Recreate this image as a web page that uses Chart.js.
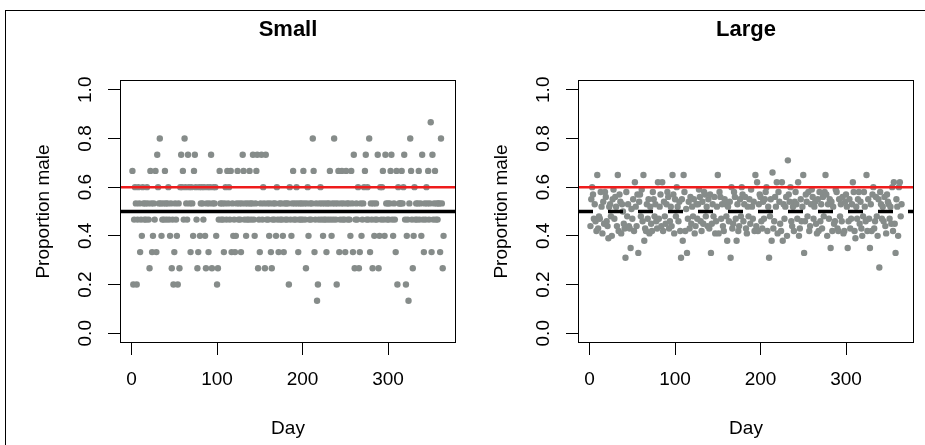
<!DOCTYPE html>
<html>
<head>
<meta charset="utf-8">
<script src="https://cdn.jsdelivr.net/npm/chart.js@4.4.0/dist/chart.umd.min.js"></script>
<style>
  html, body { margin: 0; padding: 0; background: #fff; }
  #wrap { position: relative; width: 925px; height: 445px; overflow: hidden; }
  #frame { position: absolute; left: 5px; top: 10px; width: 940px; height: 460px;
           border-left: 1px solid #000; border-top: 1px solid #000; }
  .pane { position: absolute; top: 0; width: 462px; height: 445px; }
</style>
</head>
<body>
<div id="wrap">
  <div id="frame"></div>
  <div class="pane" style="left:0"><canvas id="cSmall"></canvas></div>
  <div class="pane" style="left:458px"><canvas id="cLarge"></canvas></div>
</div>
<script>
// ---- datos ----
const panelTitles = ["Small", "Large"];
const dayTicks = [0, 100, 200, 300];
const propTicks = [0, 0.2, 0.4, 0.6, 0.8, 1.0];
const targetRatio = 0.6;   // linea roja
const evenRatio = 0.5;     // linea negra

// Small: machos de 15 por dia (dia 1..365)
const smallN = 15;
const smallMales = [
  10,3,7,9,8,3,7,9,8,5,   7,6,9,8,7,8,7,9,8,7,   4,10,8,5,6,8,7,10,5,11,
  9,8,12,8,6,7,8,7,10,8,  7,8,9,7,6,8,4,7,3,5,   8,7,6,3,8,4,9,11,9,10,
  7,12,9,8,7,11,9,8,5,9,  8,6,10,11,9,7,4,5,9,6, 8,9,8,7,9,6,4,8,9,5,
  8,9,11,4,8,9,8,9,6,3,   4,7,10,8,7,8,7,5,8,9,  7,10,8,9,7,10,5,8,6,7,
  5,6,8,10,7,8,7,5,8,11,  10,7,8,6,7,8,7,10,8,7, 8,11,7,6,8,10,11,4,7,5,
  8,11,7,9,8,4,11,7,8,7,  6,8,5,4,7,8,7,8,6,9,   7,5,8,7,8,7,6,5,8,7,
  8,7,8,3,9,7,6,8,10,7,   8,7,9,8,5,7,8,7,8,7,   10,8,7,4,8,9,6,7,8,7,
  8,12,10,5,7,8,2,3,7,8,  9,7,8,6,7,8,7,5,8,7,   8,10,7,6,8,7,12,8,7,3,
  8,10,5,7,8,10,7,8,7,5,  10,8,7,8,7,6,10,8,5,11, 4,7,8,7,9,4,5,8,6,7,
  8,9,10,11,7,9,7,12,5,8, 7,4,8,6,7,8,7,11,4,6,  9,7,9,10,7,6,11,8,7,8,
  7,8,10,11,7,6,8,7,5,10, 3,9,8,8,8,10,8,9,11,7, 3,6,7,2,8,12,10,7,4,6,
  9,7,8,7,8,10,7,8,6,11,  7,5,8,7,9,8,10,7,8,13, 5,11,7,8,10,7,8,7,8,8,
  5,12,8,4,6
];

// Large: proporcion por dia (dia 1..365)
const largeProp = [
  0.44,0.55,0.60,0.57,0.47,0.53,0.46,0.42,0.65,0.43, 0.48,0.47,0.58,0.52,0.41,0.54,0.45,0.58,0.56,0.46,
  0.44,0.39,0.52,0.53,0.48,0.40,0.55,0.59,0.47,0.56, 0.52,0.44,0.65,0.42,0.57,0.54,0.41,0.53,0.50,0.45,
  0.43,0.31,0.58,0.48,0.53,0.44,0.43,0.35,0.51,0.47, 0.55,0.42,0.62,0.52,0.44,0.57,0.33,0.54,0.57,0.48,
  0.59,0.46,0.65,0.38,0.43,0.42,0.53,0.47,0.55,0.41, 0.52,0.45,0.42,0.58,0.55,0.48,0.53,0.46,0.43,0.62,
  0.47,0.52,0.57,0.44,0.62,0.42,0.54,0.48,0.45,0.53, 0.58,0.56,0.43,0.46,0.52,0.44,0.65,0.57,0.41,0.55,
  0.48,0.60,0.52,0.46,0.54,0.42,0.31,0.55,0.38,0.65, 0.58,0.42,0.51,0.33,0.47,0.54,0.43,0.56,0.45,0.52,
  0.48,0.55,0.41,0.44,0.53,0.47,0.53,0.59,0.56,0.46, 0.42,0.54,0.45,0.58,0.57,0.48,0.52,0.44,0.55,0.43,
  0.57,0.33,0.45,0.53,0.48,0.56,0.41,0.46,0.52,0.65, 0.41,0.58,0.56,0.47,0.53,0.44,0.42,0.55,0.53,0.48,
  0.38,0.52,0.46,0.54,0.31,0.60,0.43,0.45,0.58,0.56, 0.47,0.38,0.53,0.42,0.44,0.55,0.48,0.60,0.57,0.46,
  0.53,0.56,0.43,0.41,0.52,0.48,0.55,0.45,0.59,0.52, 0.47,0.54,0.42,0.65,0.44,0.62,0.42,0.53,0.57,0.56,
  0.46,0.43,0.54,0.47,0.55,0.58,0.60,0.42,0.52,0.31, 0.48,0.55,0.38,0.66,0.43,0.46,0.56,0.52,0.62,0.41,
  0.58,0.54,0.45,0.42,0.62,0.38,0.53,0.47,0.52,0.56, 0.40,0.71,0.57,0.54,0.60,0.46,0.44,0.52,0.42,0.54,
  0.58,0.53,0.47,0.62,0.40,0.43,0.55,0.46,0.52,0.65, 0.33,0.46,0.57,0.54,0.48,0.58,0.42,0.44,0.53,0.59,
  0.56,0.47,0.52,0.54,0.45,0.41,0.55,0.42,0.58,0.46, 0.53,0.43,0.56,0.48,0.58,0.65,0.57,0.40,0.53,0.47,
  0.55,0.35,0.54,0.42,0.52,0.45,0.46,0.59,0.58,0.43, 0.42,0.55,0.48,0.53,0.46,0.56,0.41,0.42,0.54,0.57,
  0.52,0.35,0.46,0.55,0.43,0.47,0.53,0.62,0.58,0.42, 0.39,0.52,0.47,0.55,0.58,0.45,0.54,0.43,0.40,0.48,
  0.58,0.52,0.46,0.65,0.42,0.55,0.47,0.35,0.53,0.42, 0.57,0.60,0.43,0.46,0.56,0.48,0.40,0.55,0.27,0.58,
  0.53,0.47,0.52,0.46,0.56,0.44,0.41,0.57,0.54,0.53, 0.47,0.52,0.45,0.60,0.42,0.62,0.45,0.33,0.55,0.52,
  0.40,0.60,0.62,0.48,0.53
];

const days = smallMales.map((_, i) => i + 1);

// R usa un 4% extra en cada extremo
const X_MIN = 1 - 0.04 * 364, X_MAX = 365 + 0.04 * 364;
const Y_MIN = -0.04, Y_MAX = 1.04;

const FONT = '"Liberation Sans", Arial, Helvetica, sans-serif';
const DOT = '#868c8a';

function txt(ctx, s, x, y, font, rot) {
  ctx.save();
  ctx.translate(x, y);
  if (rot) ctx.rotate(-Math.PI / 2);
  ctx.font = font;
  ctx.fillStyle = '#000';
  ctx.textAlign = 'center';
  ctx.textBaseline = 'middle';
  ctx.fillText(s, 0, 0);
  ctx.restore();
}

const decor = {
  id: 'decor',
  afterDatasetsDraw(chart, args, o) {
    const { ctx, chartArea: a, scales: { x, y } } = chart;
    ctx.save();
    ctx.beginPath(); ctx.rect(a.left, a.top, a.width, a.height); ctx.clip();
    // linea objetivo (roja)
    const yr = y.getPixelForValue(targetRatio);
    ctx.strokeStyle = '#ee1c1c'; ctx.lineWidth = 2.5;
    ctx.beginPath(); ctx.moveTo(a.left, yr); ctx.lineTo(a.right, yr); ctx.stroke();
    // 0.5 (negra, solida o a trazos)
    const yb = y.getPixelForValue(evenRatio);
    ctx.strokeStyle = '#000'; ctx.lineWidth = 3.5;
    if (o.dashed) ctx.setLineDash([15, 15]);
    ctx.beginPath(); ctx.moveTo(a.left, yb); ctx.lineTo(a.right, yb); ctx.stroke();
    ctx.restore();

    // caja
    ctx.save();
    ctx.strokeStyle = '#000'; ctx.lineWidth = 1;
    ctx.strokeRect(a.left + 0.5, a.top + 0.5, a.width - 1, a.height - 1);
    ctx.restore();

    // textos
    const cx = (a.left + a.right) / 2;
    txt(ctx, o.title, cx, 30, 'bold 22px ' + FONT);
    dayTicks.forEach(v => txt(ctx, String(v), x.getPixelForValue(v), 380, '19px ' + FONT));
    propTicks.forEach(v => txt(ctx, v.toFixed(1), a.left - 34, y.getPixelForValue(v), '19px ' + FONT, true));
    txt(ctx, 'Day', cx, 429, '19px ' + FONT);
    txt(ctx, 'Proportion male', a.left - 76, y.getPixelForValue(0.5), '19px ' + FONT, true);
  }
};

function makePanel(id, title, values, dashed) {
  const pts = days.map((d, i) => ({ x: d, y: values[i] }));
  return new Chart(document.getElementById(id), {
    type: 'scatter',
    data: { datasets: [{ data: pts, pointRadius: 3.2, pointHoverRadius: 3.2,
                         pointBackgroundColor: DOT, pointBorderWidth: 0 }] },
    options: {
      responsive: true, maintainAspectRatio: false, animation: false,
      devicePixelRatio: 1,
      layout: { padding: { top: 80, right: 6, left: 0, bottom: 0 } },
      plugins: { legend: { display: false }, tooltip: { enabled: false },
                 decor: { title, dashed } },
      scales: {
        x: {
          type: 'linear', min: X_MIN, max: X_MAX,
          afterBuildTicks: s => { s.ticks = dayTicks.map(v => ({ value: v })); },
          afterFit: s => { s.height = 102; },
          grid: { drawOnChartArea: false, drawTicks: true, tickLength: 12, color: '#000', lineWidth: 1 },
          border: { display: false },
          ticks: { display: false }
        },
        y: {
          type: 'linear', min: Y_MIN, max: Y_MAX,
          afterBuildTicks: s => { s.ticks = propTicks.map(v => ({ value: v })); },
          afterFit: s => { s.width = 120; },
          grid: { drawOnChartArea: false, drawTicks: true, tickLength: 12, color: '#000', lineWidth: 1 },
          border: { display: false },
          ticks: { display: false }
        }
      }
    },
    plugins: [decor]
  });
}

makePanel('cSmall', panelTitles[0], smallMales.map(k => k / smallN), false);
makePanel('cLarge', panelTitles[1], largeProp, true);
</script>
</body>
</html>
